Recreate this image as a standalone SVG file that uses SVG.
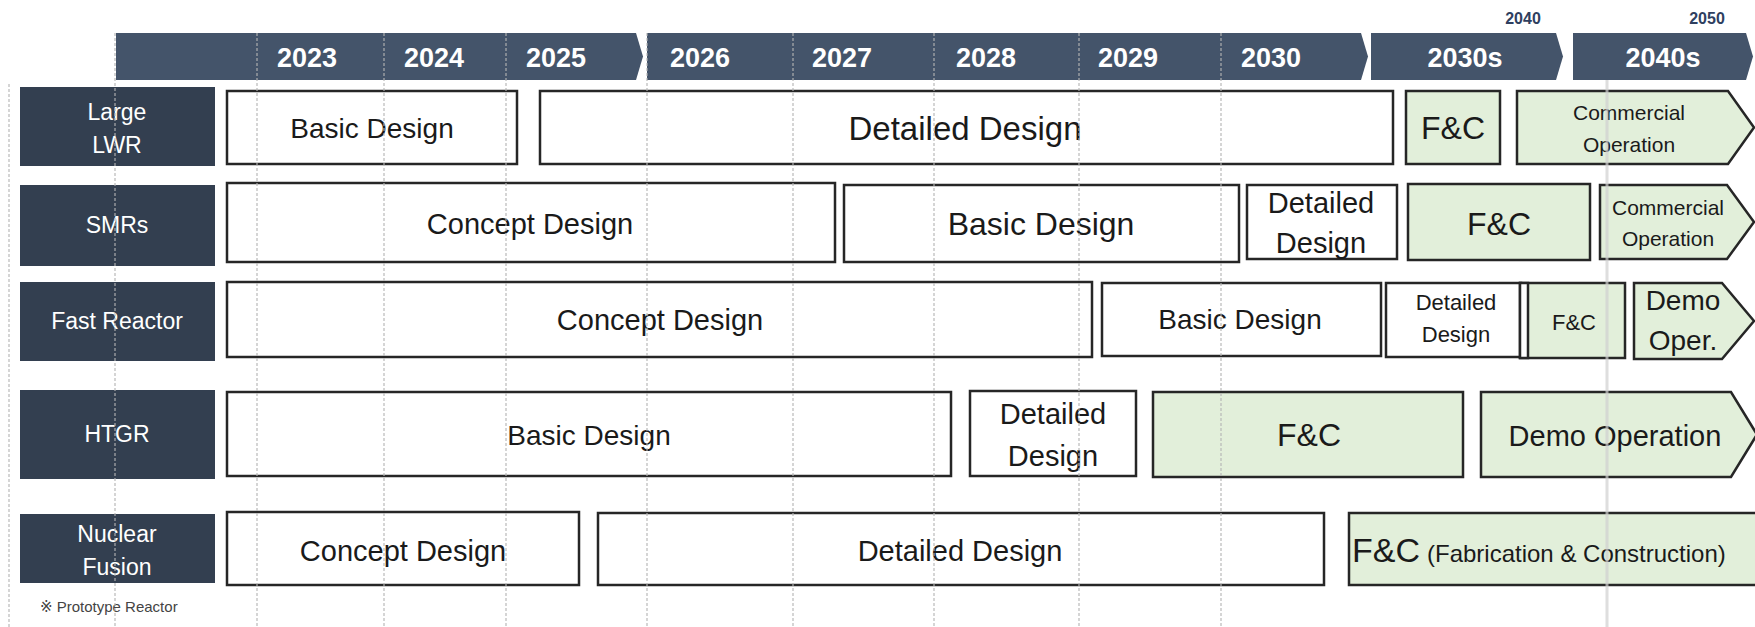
<svg xmlns="http://www.w3.org/2000/svg" width="1755" height="627" viewBox="0 0 1755 627">
  <style>
    .hdr { fill: #44546A; }
    .yr { font-family: "Liberation Sans", Arial, sans-serif; font-weight: bold; font-size: 27px; fill: #ffffff; text-anchor: middle; }
    .mark { font-family: "Liberation Sans", Arial, sans-serif; font-weight: bold; font-size: 16px; fill: #2F3F5F; text-anchor: middle; }
    .lbl { fill: #333F50; }
    .lt { font-family: "Liberation Sans", Arial, sans-serif; font-size: 23px; fill: #ffffff; text-anchor: middle; }
    .bar { fill: #ffffff; stroke: #262626; stroke-width: 2.5; }
    .fc { fill: #E2EFDA; stroke: #262626; stroke-width: 2.5; }
    .t { font-family: "Liberation Sans", Arial, sans-serif; fill: #1a1a1a; text-anchor: middle; }
    .ts { font-family: "Liberation Sans", Arial, sans-serif; fill: #1a1a1a; text-anchor: start; }
    .grid { stroke: #b4b4b4; stroke-width: 1.5; stroke-dasharray: 3 2; opacity: 0.75; fill: none; }
    .now { stroke: #d0d0d0; stroke-width: 3; fill: none; }
    .note { font-family: "Liberation Sans", "DejaVu Sans", "Noto Sans CJK JP", sans-serif; font-size: 15px; fill: #444444; }
  </style>

  <!-- timeline header -->
  <g id="header">
    <polygon class="hdr" points="116,33 636,33 643,56.5 636,80 116,80"/>
    <polygon class="hdr" points="647,33 1361,33 1368,56.5 1361,80 647,80"/>
    <polygon class="hdr" points="1371,33 1556,33 1563,56.5 1556,80 1371,80"/>
    <polygon class="hdr" points="1573,33 1746,33 1753,56.5 1746,80 1573,80"/>
    <text class="yr" x="307" y="67">2023</text>
    <text class="yr" x="434" y="67">2024</text>
    <text class="yr" x="556" y="67">2025</text>
    <text class="yr" x="700" y="67">2026</text>
    <text class="yr" x="842" y="67">2027</text>
    <text class="yr" x="986" y="67">2028</text>
    <text class="yr" x="1128" y="67">2029</text>
    <text class="yr" x="1271" y="67">2030</text>
    <text class="yr" x="1465" y="67">2030s</text>
    <text class="yr" x="1663" y="67">2040s</text>
    <text class="mark" x="1523" y="24">2040</text>
    <text class="mark" x="1707" y="24">2050</text>
  </g>

  <!-- Large LWR -->
  <g id="row-large-lwr">
    <rect class="lbl" x="20" y="87" width="195" height="79"/>
    <text class="lt" x="117" y="120">Large</text>
    <text class="lt" x="117" y="153">LWR</text>
    <rect class="bar" x="227" y="91" width="290" height="73"/>
    <text class="t" x="372" y="138" font-size="28">Basic Design</text>
    <rect class="bar" x="540" y="91" width="853" height="73"/>
    <text class="t" x="965" y="140" font-size="33">Detailed Design</text>
    <rect class="fc" x="1406" y="91" width="94" height="73"/>
    <text class="t" x="1453" y="139" font-size="32">F&amp;C</text>
    <polygon class="fc" points="1517,91 1728,91 1754,127.5 1728,164 1517,164"/>
    <text class="t" x="1629" y="120" font-size="21">Commercial</text>
    <text class="t" x="1629" y="152" font-size="21">Operation</text>
  </g>

  <!-- SMRs -->
  <g id="row-smrs">
    <rect class="lbl" x="20" y="185" width="195" height="81"/>
    <text class="lt" x="117" y="233">SMRs</text>
    <rect class="bar" x="227" y="183" width="608" height="79"/>
    <text class="t" x="530" y="234" font-size="29">Concept Design</text>
    <rect class="bar" x="844" y="185" width="395" height="77"/>
    <text class="t" x="1041" y="235" font-size="32">Basic Design</text>
    <rect class="bar" x="1247" y="185" width="150" height="74"/>
    <text class="t" x="1321" y="213" font-size="29">Detailed</text>
    <text class="t" x="1321" y="253" font-size="29">Design</text>
    <rect class="fc" x="1408" y="184" width="182" height="76"/>
    <text class="t" x="1499" y="235" font-size="32">F&amp;C</text>
    <polygon class="fc" points="1600,185 1727,185 1754,222 1727,259 1600,259"/>
    <text class="t" x="1668" y="215" font-size="21">Commercial</text>
    <text class="t" x="1668" y="246" font-size="21">Operation</text>
  </g>

  <!-- Fast Reactor -->
  <g id="row-fast-reactor">
    <rect class="lbl" x="20" y="282" width="195" height="79"/>
    <text class="lt" x="117" y="329">Fast Reactor</text>
    <rect class="bar" x="227" y="282" width="865" height="75"/>
    <text class="t" x="660" y="330" font-size="29">Concept Design</text>
    <rect class="bar" x="1102" y="283" width="279" height="73"/>
    <text class="t" x="1240" y="329" font-size="28">Basic Design</text>
    <rect class="bar" x="1386" y="283" width="135" height="74"/>
    <text class="t" x="1456" y="310" font-size="22">Detailed</text>
    <text class="t" x="1456" y="342" font-size="22">Design</text>
    <rect class="fc" x="1520" y="283" width="105" height="75"/>
    <rect class="bar" x="1520" y="283" width="8" height="75"/>
    <text class="t" x="1574" y="330" font-size="22">F&amp;C</text>
    <polygon class="fc" points="1634,283 1722,283 1754,321 1722,359 1634,359"/>
    <text class="t" x="1683" y="310" font-size="28">Demo</text>
    <text class="t" x="1683" y="350" font-size="28">Oper.</text>
  </g>

  <!-- HTGR -->
  <g id="row-htgr">
    <rect class="lbl" x="20" y="390" width="195" height="89"/>
    <text class="lt" x="117" y="442">HTGR</text>
    <rect class="bar" x="227" y="392" width="724" height="84"/>
    <text class="t" x="589" y="445" font-size="28">Basic Design</text>
    <rect class="bar" x="970" y="391" width="166" height="85"/>
    <text class="t" x="1053" y="424" font-size="29">Detailed</text>
    <text class="t" x="1053" y="466" font-size="29">Design</text>
    <rect class="fc" x="1153" y="392" width="310" height="85"/>
    <text class="t" x="1309" y="446" font-size="32">F&amp;C</text>
    <polygon class="fc" points="1481,392 1731,392 1757,434.5 1731,477 1481,477"/>
    <text class="t" x="1615" y="446" font-size="29">Demo Operation</text>
  </g>

  <!-- Nuclear Fusion -->
  <g id="row-nuclear-fusion">
    <rect class="lbl" x="20" y="514" width="195" height="69"/>
    <text class="lt" x="117" y="542">Nuclear</text>
    <text class="lt" x="117" y="575">Fusion</text>
    <rect class="bar" x="227" y="512" width="352" height="73"/>
    <text class="t" x="403" y="561" font-size="29">Concept Design</text>
    <rect class="bar" x="598" y="513" width="726" height="72"/>
    <text class="t" x="960" y="561" font-size="29">Detailed Design</text>
    <rect class="fc" x="1349" y="513" width="420" height="72"/>
    <text class="ts" x="1352" y="562" font-size="34">F&amp;C<tspan font-size="24" dx="7">(Fabrication &amp; Construction)</tspan></text>
  </g>

  <text class="note" x="40" y="612">※ Prototype Reactor</text>

  <!-- year grid lines drawn over the chart -->
  <g id="connectors">
    <line class="grid" x1="9" y1="84" x2="9" y2="627"/>
    <line class="grid" x1="115" y1="33" x2="115" y2="627"/>
    <line class="grid" x1="257" y1="33" x2="257" y2="627"/>
    <line class="grid" x1="384" y1="33" x2="384" y2="627"/>
    <line class="grid" x1="506" y1="33" x2="506" y2="627"/>
    <line class="grid" x1="647" y1="33" x2="647" y2="627"/>
    <line class="grid" x1="793" y1="33" x2="793" y2="627"/>
    <line class="grid" x1="934" y1="33" x2="934" y2="627"/>
    <line class="grid" x1="1079" y1="33" x2="1079" y2="627"/>
    <line class="grid" x1="1221" y1="33" x2="1221" y2="627"/>
    <line class="now" x1="1607" y1="80" x2="1607" y2="627" opacity="0.7"/>
  </g>
</svg>
